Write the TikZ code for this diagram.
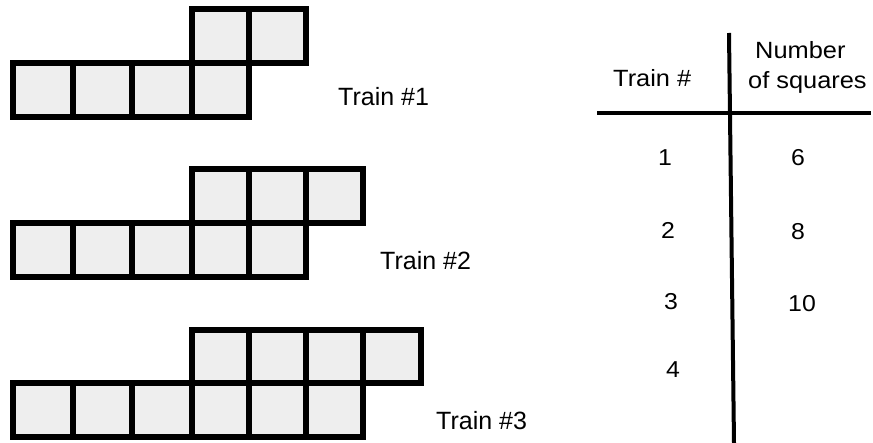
\documentclass[tikz,border=0pt]{standalone}
\usepackage{fontspec}
\setmainfont{Liberation Sans}
\newfontfamily\widefont[FakeStretch=1.08]{Liberation Sans}
\definecolor{cellgray}{RGB}{238,238,238}
\tikzset{
  cell/.style={draw=black, fill=cellgray, line width=5.3pt},
  rule/.style={draw=black, line width=4pt},
  lbl/.style={inner sep=0pt, anchor=base west, font=\fontsize{25}{25}\selectfont},
  hdr/.style={inner sep=0pt, anchor=base west, font=\widefont\fontsize{23.5}{23.5}\selectfont},
  num/.style={inner sep=0pt, anchor=center, font=\widefont\fontsize{23}{23}\selectfont}
}
\begin{document}
\begin{tikzpicture}[x=1pt,y=-1pt]
\useasboundingbox (0,0) rectangle (873,443);
\def\ex{{13,73,132,192,249,306,363,421}}
% Train 1
\foreach \i in {0,...,3} {\pgfmathsetmacro\xa{\ex[\i]}\pgfmathsetmacro\xb{\ex[\i+1]}
  \path[cell] (\xa,63) rectangle (\xb,117);}
\foreach \i in {3,4} {\pgfmathsetmacro\xa{\ex[\i]}\pgfmathsetmacro\xb{\ex[\i+1]}
  \path[cell] (\xa,9) rectangle (\xb,63);}
% Train 2
\foreach \i in {0,...,4} {\pgfmathsetmacro\xa{\ex[\i]}\pgfmathsetmacro\xb{\ex[\i+1]}
  \path[cell] (\xa,223) rectangle (\xb,277);}
\foreach \i in {3,4,5} {\pgfmathsetmacro\xa{\ex[\i]}\pgfmathsetmacro\xb{\ex[\i+1]}
  \path[cell] (\xa,169) rectangle (\xb,223);}
% Train 3
\foreach \i in {0,...,5} {\pgfmathsetmacro\xa{\ex[\i]}\pgfmathsetmacro\xb{\ex[\i+1]}
  \path[cell] (\xa,383) rectangle (\xb,437);}
\foreach \i in {3,...,6} {\pgfmathsetmacro\xa{\ex[\i]}\pgfmathsetmacro\xb{\ex[\i+1]}
  \path[cell] (\xa,330) rectangle (\xb,383);}
% labels
\node[lbl] (t1) at (338,106) {Train \#1};
\node[lbl] (t2) at (380,270) {Train \#2};
\node[lbl] (t3) at (436,430) {Train \#3};
% table
\coordinate (hl) at (597,113);
\coordinate (hr) at (871,113);
\coordinate (vt) at (729,33);
\coordinate (vb) at (734,443);
\draw[rule] (hl) -- (hr);
\draw[rule] (vt) -- (vb);
\node[hdr] (h1) at (613,87) {Train \#};
\node[hdr] (h2) at (755,59) {Number};
\node[hdr] (h3) at (748,89) {of squares};
\node[num] (a1) at (665,158) {1};
\node[num] (a2) at (668,230) {2};
\node[num] (a3) at (671,302) {3};
\node[num] (a4) at (673,370) {4};
\node[num] (b1) at (798,158) {6};
\node[num] (b2) at (798,232) {8};
\node[num] (b3) at (802,304) {10};
\end{tikzpicture}
\end{document}
